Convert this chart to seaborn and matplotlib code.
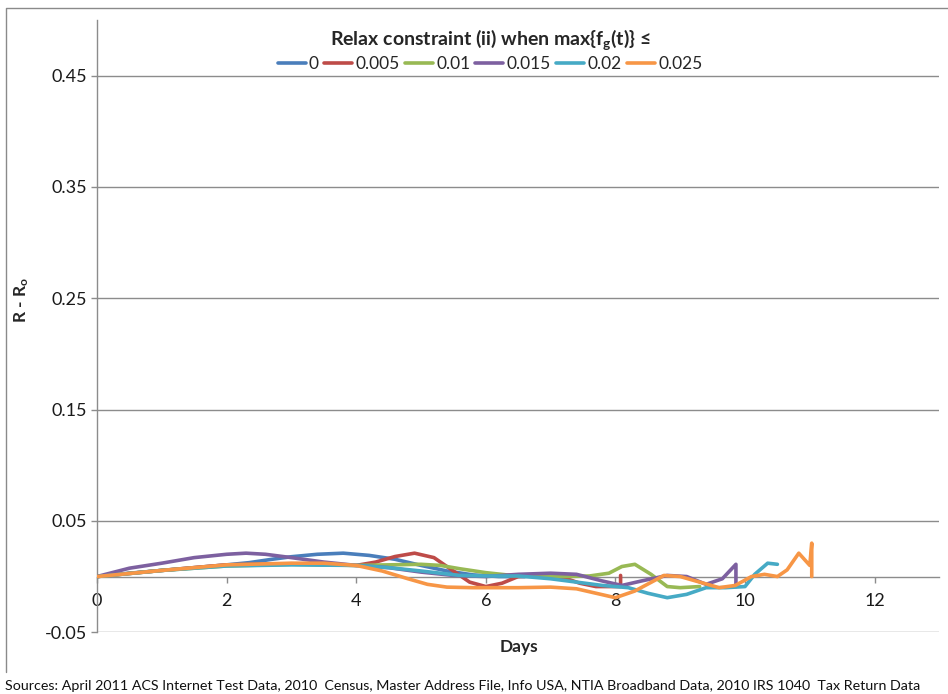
import matplotlib
matplotlib.use("Agg")
import matplotlib.pyplot as plt
from matplotlib.lines import Line2D
import seaborn as sns
import pandas as pd

sns.set_theme(style="white")
plt.rcParams["font.family"] = ["Lato", "DejaVu Sans"]
plt.rcParams["mathtext.fontset"] = "custom"
plt.rcParams["mathtext.rm"] = "Lato"
plt.rcParams["mathtext.it"] = "Lato:italic"
plt.rcParams["mathtext.bf"] = "Lato:bold"

# Relaxation thresholds (legend entries) and their line colours
thresholds = ["0", "0.005", "0.01", "0.015", "0.02", "0.025"]
colors = ["#4A7EBB", "#BE4B48", "#98B954", "#7D60A0", "#46AAC5", "#F79646"]

# R - Ro over time for each threshold
days_0 = [0, 0.5, 1, 1.5, 2, 2.35, 2.7, 3.0, 3.4, 3.8, 4.2, 4.6, 5.0, 5.4, 5.8, 6.2, 6.6]
diff_0 = [0, 0.003, 0.0055, 0.008, 0.0105, 0.0125, 0.0155, 0.0178, 0.020, 0.021, 0.019, 0.0155, 0.010, 0.005, 0.0015, 0.0, 0.0]

days_005 = [0, 1, 2, 3, 4.0, 4.3, 4.6, 4.9, 5.2, 5.5, 5.75, 6.0, 6.25, 6.5, 6.9, 7.2, 7.45, 7.7, 8.08, 8.08]
diff_005 = [0, 0.0055, 0.0105, 0.0115, 0.010, 0.013, 0.018, 0.021, 0.017, 0.005, -0.005, -0.009, -0.006, 0.0, 0.001, -0.001, -0.006, -0.009, -0.009, 0.001]

days_01 = [0, 1, 2, 3, 4, 4.5, 5.0, 5.3, 5.6, 6.0, 6.4, 6.8, 7.2, 7.6, 7.9, 8.1, 8.3, 8.55, 8.8, 9.0, 9.3]
diff_01 = [0, 0.0055, 0.0095, 0.011, 0.010, 0.0105, 0.011, 0.010, 0.007, 0.0035, 0.001, 0.0, 0.0, 0.0005, 0.003, 0.009, 0.011, 0.002, -0.009, -0.010, -0.009]

days_015 = [0, 0.5, 1.0, 1.5, 2.0, 2.3, 2.6, 3.0, 3.5, 4.0, 4.5, 5.0, 5.5, 6.0, 6.5, 7.0, 7.4, 7.8, 8.1, 8.4, 8.8, 9.1, 9.4, 9.65, 9.86, 9.86]
diff_015 = [0, 0.0075, 0.012, 0.017, 0.020, 0.021, 0.020, 0.017, 0.013, 0.010, 0.008, 0.004, 0.001, 0.0, 0.002, 0.003, 0.002, -0.004, -0.008, -0.004, 0.001, 0.0, -0.007, -0.002, 0.011, -0.009]

days_02 = [0, 1, 2, 3, 4, 4.5, 5.0, 5.3, 5.6, 6.0, 6.5, 7.0, 7.4, 7.8, 8.2, 8.5, 8.8, 9.1, 9.4, 9.7, 10.0, 10.15, 10.35, 10.5]
diff_02 = [0, 0.0055, 0.0095, 0.0105, 0.010, 0.008, 0.005, 0.003, 0.001, 0.0005, 0.0005, -0.002, -0.005, -0.008, -0.010, -0.015, -0.019, -0.016, -0.010, -0.010, -0.009, 0.002, 0.012, 0.011]

days_025 = [0, 1, 2, 3, 3.5, 4.0, 4.4, 4.8, 5.1, 5.4, 5.8, 6.5, 7.0, 7.4, 7.7, 8.0, 8.3, 8.75, 9.0, 9.3, 9.6, 9.85, 10.1, 10.3, 10.5, 10.65, 10.83, 11.0, 11.03, 11.03]
diff_025 = [0, 0.0055, 0.0105, 0.012, 0.012, 0.010, 0.005, -0.002, -0.007, -0.0095, -0.010, -0.010, -0.0095, -0.011, -0.015, -0.019, -0.013, 0.001, 0.0, -0.005, -0.010, -0.008, 0.0, 0.002, 0.0, 0.006, 0.021, 0.010, 0.030, 0.0]

y_ticks = [-0.05, 0.05, 0.15, 0.25, 0.35, 0.45]
x_ticks = [0, 2, 4, 6, 8, 10, 12]

series = [
    (thresholds[0], days_0, diff_0),
    (thresholds[1], days_005, diff_005),
    (thresholds[2], days_01, diff_01),
    (thresholds[3], days_015, diff_015),
    (thresholds[4], days_02, diff_02),
    (thresholds[5], days_025, diff_025),
]
df = pd.concat(
    [pd.DataFrame({"Days": d, "diff": v, "threshold": name}) for name, d, v in series],
    ignore_index=True,
)

W, H = 948, 694
fig = plt.figure(figsize=(W / 100, H / 100), dpi=100)
left, right, top, bottom = 97, 939.4, 20, 632.2
ax = fig.add_axes([left / W, 1 - bottom / H, (right - left) / W, (bottom - top) / H])

sns.lineplot(
    data=df, x="Days", y="diff", hue="threshold", hue_order=thresholds,
    palette=colors, estimator=None, sort=False, linewidth=2.6,
    legend=False, ax=ax, zorder=3,
)
for line in ax.get_lines():
    line.set_solid_joinstyle("round")
    line.set_solid_capstyle("round")

grey = "#8C8C8C"
ax.set_xlim(0, 13)
ax.set_ylim(-0.05, 0.5)
ax.set_yticks(y_ticks)
ax.set_yticklabels([f"{t:.2f}" for t in y_ticks])
ax.set_xticks(x_ticks)
ax.set_xticklabels([str(t) for t in x_ticks])
ax.yaxis.grid(True, color=grey, linewidth=1.0)
ax.xaxis.grid(False)
ax.set_axisbelow(True)

for side in ["top", "right"]:
    ax.spines[side].set_visible(False)
ax.spines["bottom"].set_position(("data", 0))
ax.spines["bottom"].set_color(grey)
ax.spines["left"].set_color(grey)
ax.spines["bottom"].set_linewidth(1.0)
ax.spines["left"].set_linewidth(1.0)
ax.spines["bottom"].set_zorder(2)

ax.tick_params(axis="x", direction="out", length=4.5, width=1, color=grey,
               pad=7, labelsize=13, labelcolor="#1a1a1a", bottom=True)
ax.tick_params(axis="y", direction="out", length=4, width=1, color=grey,
               pad=3, labelsize=13, labelcolor="#1a1a1a", left=True)

ax.set_xlabel("Days", fontsize=12.5, fontweight="bold")
ax.xaxis.set_label_coords((519 - left) / (right - left), (bottom - 647) / (bottom - top))
ax.xaxis.label.set_va("center")
ax.set_ylabel(r"R - R$_{\mathbf{o}}$", fontsize=12.5, fontweight="bold")
ax.yaxis.set_label_coords((22 - left) / (right - left), (bottom - 300) / (bottom - top))
ax.yaxis.label.set_va("center")

handles = [Line2D([], [], color=c, linewidth=2.6) for c in colors]
leg = ax.legend(
    handles, thresholds, title=r"Relax constraint (ii) when max{f$_{\mathbf{g}}$(t)} ≤",
    loc="upper center", bbox_to_anchor=((490 - left) / (right - left), 0.9945),
    ncol=6, frameon=False, fontsize=12.5, handlelength=1.6, handletextpad=0.2,
    columnspacing=0.3, borderaxespad=0.0, borderpad=0.2,
    title_fontproperties={"weight": "bold", "size": 14},
)
leg._legend_box.sep = 3

# chart-area border (left and top edges)
fig.add_artist(Line2D([6 / W, 6 / W, 1], [1 - 672 / H, 1 - 8 / H, 1 - 8 / H],
                      color="#8A8A8A", linewidth=1.0))

fig.text(5 / W, 1 - 686 / H,
         "Sources: April 2011 ACS Internet Test Data, 2010  Census, Master Address File, "
         "Info USA, NTIA Broadband Data, 2010 IRS 1040  Tax Return Data",
         fontsize=10.3, va="center", ha="left", color="#111111")

fig.savefig("out.png", dpi=100)
